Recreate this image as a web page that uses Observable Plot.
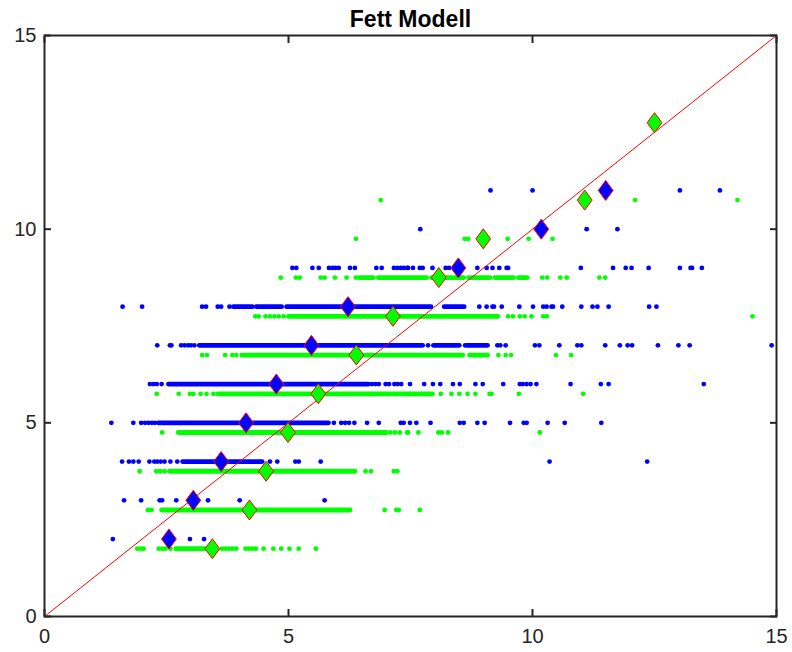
<!DOCTYPE html>
<html>
<head>
<meta charset="utf-8">
<script src="https://cdn.jsdelivr.net/npm/d3@7"></script>
<script src="https://cdn.jsdelivr.net/npm/@observablehq/plot@0.6"></script>
<style>
  html, body { margin: 0; padding: 0; background: #fff; }
  #chart { width: 792px; height: 652px; }
</style>
</head>
<body>
<div id="chart"></div>
<script>
const titleText = "Fett Modell";
const xTicks = [0, 5, 10, 15];
const yTicks = [0, 5, 10, 15];
const refLine = [0, 15];

// Observed (blue) individual dots per row: [y, [x...]]
const blueDots = [
  [2, [1.40, 2.98, 3.27]],
  [3, [1.63, 1.98, 2.36, 2.41, 2.70, 3.35, 4.00, 5.74]],
  [4, [1.59, 1.73, 1.82, 1.93, 2.15, 2.25, 2.31, 2.38, 2.46, 2.58, 2.72, 4.62, 4.77, 5.14, 5.21, 5.66, 10.35, 12.35]],
  [5, [1.37, 1.82, 1.98, 2.06, 2.13, 2.20, 2.26, 5.93, 6.08, 6.16, 6.24, 6.35, 6.61, 6.85, 7.30, 7.36, 7.49, 7.62, 7.91, 8.51, 8.59, 8.87, 9.02, 9.54, 9.82, 9.88, 10.31, 10.66, 11.41]],
  [6, [2.16, 2.23, 2.30, 2.40, 6.71, 6.78, 6.85, 6.99, 7.06, 7.17, 7.24, 7.31, 7.49, 7.78, 7.96, 8.11, 8.37, 8.51, 8.83, 8.98, 9.40, 9.74, 9.80, 9.88, 9.96, 10.08, 10.78, 11.40, 11.56, 13.51]],
  [7, [2.31, 2.57, 2.60, 2.80, 2.87, 2.94, 3.00, 3.07, 7.86, 9.28, 9.34, 9.45, 10.05, 10.14, 10.55, 10.92, 11.00, 11.49, 11.79, 11.95, 12.04, 12.57, 12.99, 13.22, 14.90]],
  [8, [1.60, 2.00, 3.23, 3.31, 3.55, 3.62, 3.79, 8.91, 9.06, 9.18, 9.21, 9.37, 9.73, 10.01, 10.22, 10.29, 10.39, 10.42, 10.61, 11.00, 11.23, 11.33, 11.56, 12.39, 12.54]],
  [9, [5.08, 5.16, 5.49, 5.62, 5.83, 5.90, 5.96, 6.03, 6.26, 6.36, 6.80, 6.91, 7.16, 7.23, 7.30, 7.36, 7.43, 7.45, 7.55, 7.69, 7.75, 7.95, 8.22, 8.29, 8.87, 9.06, 9.18, 9.32, 9.47, 9.50, 10.99, 11.65, 11.91, 12.03, 12.38, 13.02, 13.24, 13.27, 13.47]],
  [10, [7.70, 11.11, 11.74]],
  [11, [9.14, 10.00, 13.02, 13.84]]
];
// Observed (blue) dense runs: [y, xStart, xEnd]
const blueRuns = [
  [4, 2.84, 4.47],
  [5, 2.34, 5.83],
  [6, 2.55, 6.65],
  [7, 3.18, 7.76], [7, 7.98, 8.51], [7, 8.63, 9.09],
  [8, 3.88, 4.27], [8, 4.35, 4.87], [8, 4.97, 7.93], [8, 8.20, 8.61]
];

// Model (green) individual dots per row
const greenDots = [
  [1.75, [1.90, 1.97, 2.03, 2.34, 2.41, 2.48, 2.58, 3.64, 3.71, 3.78, 3.85, 3.93, 4.12, 4.19, 4.26, 4.33, 4.49, 4.69, 4.85, 5.02, 5.21, 5.56]],
  [2.75, [2.12, 2.19, 6.97, 7.21, 7.26, 7.69]],
  [3.75, [1.95, 2.29, 2.37, 2.46, 6.58, 6.69, 7.16, 7.23]],
  [4.75, [2.41, 7.09, 7.18, 7.28, 7.43, 7.45, 7.66, 8.07, 8.14, 8.27, 10.15]],
  [5.75, [2.30, 2.75, 2.98, 3.05, 3.20, 3.32, 3.46, 8.12, 8.34, 8.50, 8.67, 8.83, 9.12, 9.16, 9.72, 11.04]],
  [6.75, [3.23, 3.33, 3.70, 3.85, 3.93, 9.30, 9.45, 9.56, 10.48, 10.79]],
  [7.75, [4.32, 4.39, 4.53, 4.62, 4.71, 4.80, 4.90, 9.50, 9.60, 9.74, 9.84, 9.98, 10.22, 10.29, 14.51]],
  [8.75, [4.84, 5.15, 5.23, 5.66, 5.74, 5.95, 6.19, 6.38, 10.20, 10.30, 10.57, 10.70, 11.37, 11.49]],
  [9.75, [6.38, 8.61, 8.68, 9.49, 9.92, 10.41]],
  [10.75, [6.89, 12.10, 14.20]]
];
// Model (green) dense runs
const greenRuns = [
  [1.75, 2.70, 3.30],
  [2.75, 2.41, 6.27],
  [3.75, 2.57, 6.37],
  [4.75, 2.75, 7.02],
  [5.75, 3.56, 7.96],
  [6.75, 4.05, 8.58], [6.75, 8.72, 9.09],
  [7.75, 5.01, 9.30],
  [8.75, 6.46, 6.75], [8.75, 6.85, 7.84], [8.75, 7.94, 8.60], [8.75, 8.70, 9.14], [8.75, 9.24, 9.62], [8.75, 9.72, 9.90]
];

// Row means (diamonds)
const blueMeanY = [2, 3, 4, 5, 6, 7, 8, 9, 10, 11];
const blueMeanX = [2.55, 3.05, 3.62, 4.13, 4.75, 5.47, 6.22, 8.48, 10.18, 11.50];
const greenMeanY = [1.75, 2.75, 3.75, 4.75, 5.75, 6.75, 7.75, 8.75, 9.75, 10.75, 12.75];
const greenMeanX = [3.44, 4.20, 4.54, 4.99, 5.61, 6.39, 7.14, 8.08, 8.99, 11.07, 12.50];

const flat = rows => rows.flatMap(([y, xs]) => xs.map(x => ({x, y})));
const blueTable = flat(blueDots);
const greenTable = flat(greenDots);
const blueMeans = blueMeanY.map((y, i) => ({x: blueMeanX[i], y}));
const greenMeans = greenMeanY.map((y, i) => ({x: greenMeanX[i], y}));

const BLUE = "#0000ff", GREEN = "#00ff00", RED = "#ff0000", AX = "#262626";

const tallDiamond = {
  draw(ctx, size) {
    const h = Math.sqrt(size / Math.PI);
    const w = h * 0.74;
    ctx.moveTo(0, -h); ctx.lineTo(w, 0); ctx.lineTo(0, h); ctx.lineTo(-w, 0); ctx.closePath();
  }
};

const chart = Plot.plot({
  width: 792,
  height: 652,
  marginLeft: 44,
  marginRight: 16,
  marginTop: 35,
  marginBottom: 36,
  x: {domain: [0, 15], label: null},
  y: {domain: [0, 15], label: null},
  style: {fontFamily: "'Liberation Sans', Arial, Helvetica, sans-serif", color: AX, background: "#fff", overflow: "visible"},
  marks: [
    Plot.ruleY(blueRuns, {y: d => d[0], x1: d => d[1], x2: d => d[2], stroke: BLUE, strokeWidth: 4.8, strokeLinecap: "round"}),
    Plot.dot(blueTable, {x: "x", y: "y", r: 2.4, fill: BLUE, stroke: null}),
    Plot.ruleY(greenRuns, {y: d => d[0], x1: d => d[1], x2: d => d[2], stroke: GREEN, strokeWidth: 4.8, strokeLinecap: "round"}),
    Plot.dot(greenTable, {x: "x", y: "y", r: 2.4, fill: GREEN, stroke: null}),
    Plot.line(refLine, {x: d => d, y: d => d, stroke: RED, strokeWidth: 1}),
    Plot.dot(blueMeans, {x: "x", y: "y", r: 10, symbol: tallDiamond, fill: BLUE, stroke: RED, strokeWidth: 1}),
    Plot.dot(greenMeans, {x: "x", y: "y", r: 10, symbol: tallDiamond, fill: GREEN, stroke: RED, strokeWidth: 1}),
    Plot.frame({stroke: AX, strokeWidth: 2}),
    Plot.axisX(xTicks, {anchor: "bottom", tickSize: 0, tickPadding: 12, fontSize: 20, label: null}),
    Plot.axisY(yTicks, {anchor: "left", tickSize: 0, tickPadding: 8, fontSize: 20, label: null}),
    Plot.axisX(xTicks, {anchor: "bottom", tickSize: -7, strokeWidth: 2, stroke: AX, tickFormat: () => "", label: null}),
    Plot.axisX(xTicks, {anchor: "top", tickSize: -7, strokeWidth: 2, stroke: AX, tickFormat: () => "", label: null}),
    Plot.axisY(yTicks, {anchor: "left", tickSize: -7, strokeWidth: 2, stroke: AX, tickFormat: () => "", label: null}),
    Plot.axisY(yTicks, {anchor: "right", tickSize: -7, strokeWidth: 2, stroke: AX, tickFormat: () => "", label: null}),
    Plot.text([titleText], {text: d => d, frameAnchor: "top", dy: -25, fontWeight: "bold", fontSize: 23, fill: "#000"})
  ]
});
document.getElementById("chart").appendChild(chart);
</script>
</body>
</html>
